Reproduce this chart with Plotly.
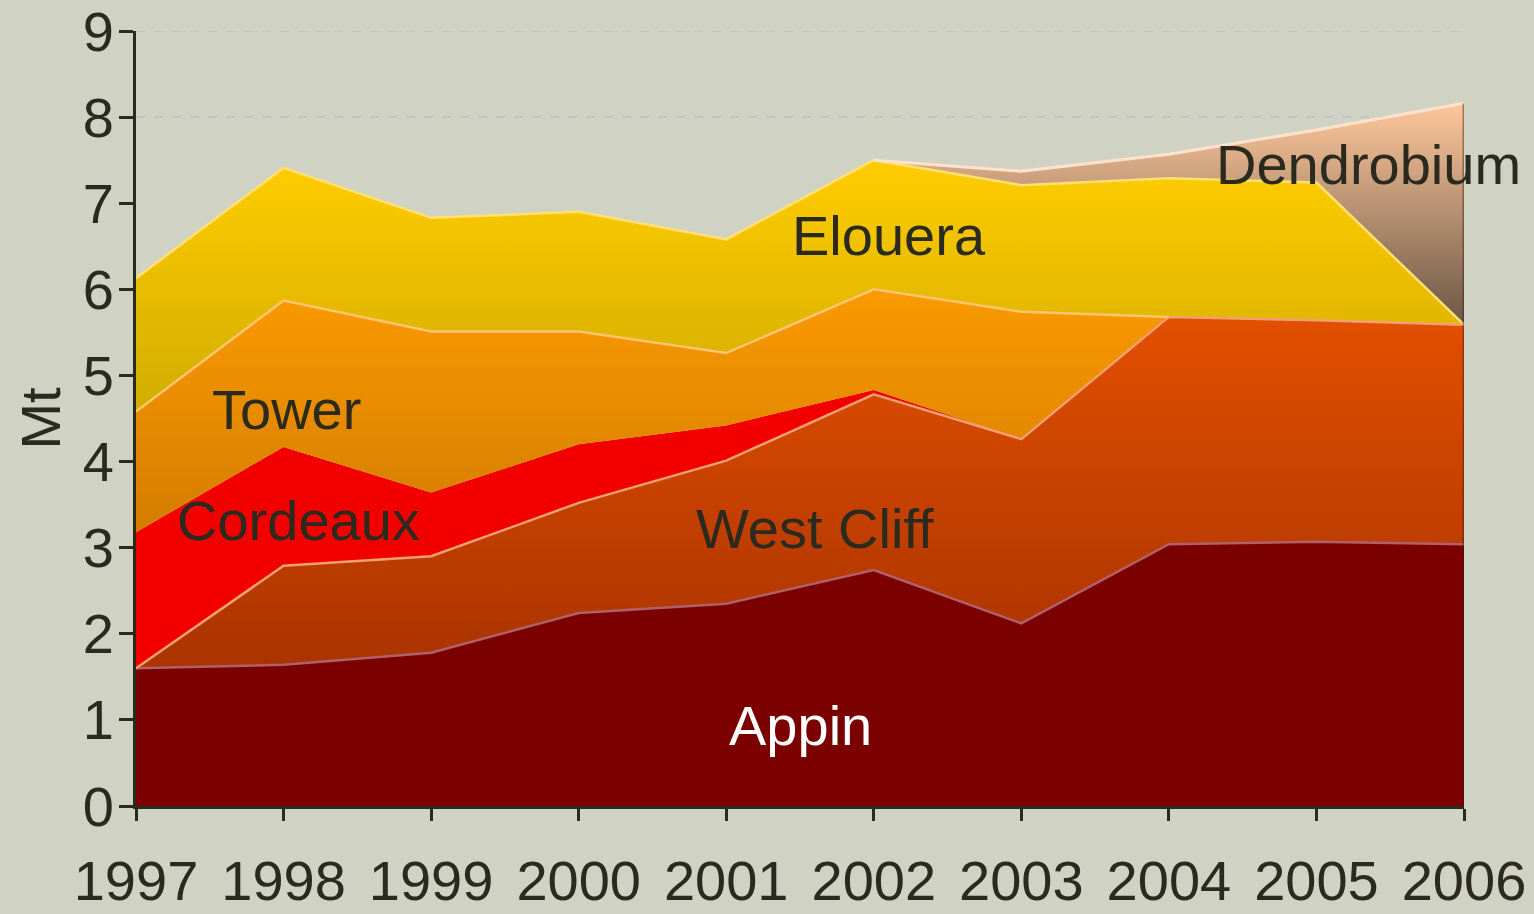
import plotly.graph_objects as go

# ---------------- data (Mt) ----------------
years = [1997, 1998, 1999, 2000, 2001, 2002, 2003, 2004, 2005, 2006]
appin = [1.60, 1.64, 1.78, 2.24, 2.35, 2.74, 2.12, 3.04, 3.07, 3.04]
west_cliff = [0.00, 1.15, 1.12, 1.28, 1.66, 2.04, 2.14, 2.64, 2.57, 2.55]
cordeaux = [1.58, 1.38, 0.74, 0.68, 0.41, 0.05, 0.00, 0.00, 0.00, 0.00]
tower = [1.40, 1.70, 1.87, 1.31, 0.84, 1.17, 1.48, 0.00, 0.00, 0.00]
elouera = [1.55, 1.54, 1.32, 1.39, 1.32, 1.50, 1.47, 1.61, 1.60, 0.00]
dendrobium = [0.00, 0.00, 0.00, 0.00, 0.00, 0.00, 0.16, 0.28, 0.61, 2.57]

mine_names = ["Appin", "West Cliff", "Cordeaux", "Tower", "Elouera", "Dendrobium"]
y_tick_vals = [0, 1, 2, 3, 4, 5, 6, 7, 8, 9]
grid_levels = [8, 9]
y_title = "Mt"

# ---------------- styles ----------------
FONT = "Liberation Sans Narrow, Arial Narrow, Liberation Sans, Arial, sans-serif"
TXT = "#2A2A1E"
BG = "#D0D2C4"
FS = 56

series = [appin, west_cliff, cordeaux, tower, elouera, dendrobium]
styles = [
    dict(flat="#7B0000", line="#B0606A", lw=2.5),
    dict(grad=(1.5, "#A83200", 5.8, "#E45000"), line="#F2A070", lw=2.5),
    dict(flat="#F20000", line=None, lw=0),
    dict(grad=(3.0, "#D27A00", 6.0, "#FA9A00"), line="#FFC470", lw=2.5),
    dict(grad=(4.5, "#D0AC00", 7.5, "#FFCC00"), line="#FFE070", lw=2.5),
    dict(grad=(5.6, "#6C5846", 8.2, "#FFC89C"), line="#FFE2CC", lw=3),
]
label_pos = [
    (2001.5, 0.93, "white"),
    (2001.6, 3.22, TXT),
    (1998.1, 3.32, TXT),
    (1998.02, 4.6, TXT),
    (2002.1, 6.62, TXT),
    (2005.35, 7.45, TXT),
]

fig = go.Figure()

# dashed reference gridlines (only the levels visible above the areas)
for g in grid_levels:
    fig.add_shape(type="line", xref="paper", yref="y", x0=0, x1=1, y0=g, y1=g,
                  line=dict(color="#BEBFC8", width=1.5, dash="dash"), layer="below")

# stacked filled areas
for name, vals, st in zip(mine_names, series, styles):
    kw = dict(x=years, y=vals, name=name, stackgroup="one", mode="lines",
              line=dict(width=0), hoverinfo="x+y+name")
    if "flat" in st:
        kw["fillcolor"] = st["flat"]
    else:
        s0, c0, s1, c1 = st["grad"]
        kw["fillgradient"] = dict(type="vertical", colorscale=[[0, c0], [1, c1]],
                                  start=s0, stop=s1)
    fig.add_trace(go.Scatter(**kw))

# boundary lines on top of each layer
cum = [0.0] * len(years)
for name, vals, st in zip(mine_names, series, styles):
    cum = [c + v for c, v in zip(cum, vals)]
    if not st["line"]:
        continue
    ys = []
    for i, v in enumerate(vals):
        prev_pos = i > 0 and vals[i - 1] > 0
        next_pos = i < len(vals) - 1 and vals[i + 1] > 0
        ys.append(cum[i] if (v > 0 or prev_pos or next_pos) else None)
    fig.add_trace(go.Scatter(x=years, y=ys, mode="lines", connectgaps=False,
                             line=dict(color=st["line"], width=st["lw"]),
                             hoverinfo="skip", showlegend=False))

# darker right edge
fig.add_trace(go.Scatter(x=[years[-1], years[-1]], y=[0, cum[-1]], mode="lines",
                         line=dict(color="rgba(60,25,10,0.45)", width=3),
                         hoverinfo="skip", showlegend=False))

for name, (lx, ly, col) in zip(mine_names, label_pos):
    fig.add_annotation(x=lx, y=ly, text=name, showarrow=False,
                       font=dict(family=FONT, size=FS, color=col))

fig.update_layout(
    width=1534, height=914,
    margin=dict(l=136, r=70, t=31, b=108, autoexpand=False),
    paper_bgcolor=BG, plot_bgcolor=BG,
    showlegend=False,
    font=dict(family=FONT, color=TXT, size=FS),
)
fig.update_xaxes(
    range=[years[0], years[-1]], tickmode="array", tickvals=years,
    ticktext=[str(y) for y in years], automargin=False,
    showgrid=False, zeroline=False, showline=True, linecolor=TXT, linewidth=3,
    ticks="outside", ticklen=12, tickwidth=3, tickcolor=TXT,
    tickfont=dict(family=FONT, size=FS, color=TXT),
    ticklabelstandoff=12, ticklabeloverflow="allow",
)
fig.update_yaxes(
    range=[0, 9], tickmode="array", tickvals=y_tick_vals, automargin=False,
    showgrid=False, zeroline=False, showline=True, linecolor=TXT, linewidth=3,
    ticks="outside", ticklen=14, tickwidth=3, tickcolor=TXT,
    tickfont=dict(family=FONT, size=FS, color=TXT),
    ticklabelstandoff=-6, ticklabeloverflow="allow",
    title=dict(text=y_title, font=dict(family=FONT, size=FS, color=TXT), standoff=5),
)

fig.write_html("out.html", config={"displayModeBar": False},
               post_script="document.body.style.margin='0';document.body.style.overflow='hidden';")
